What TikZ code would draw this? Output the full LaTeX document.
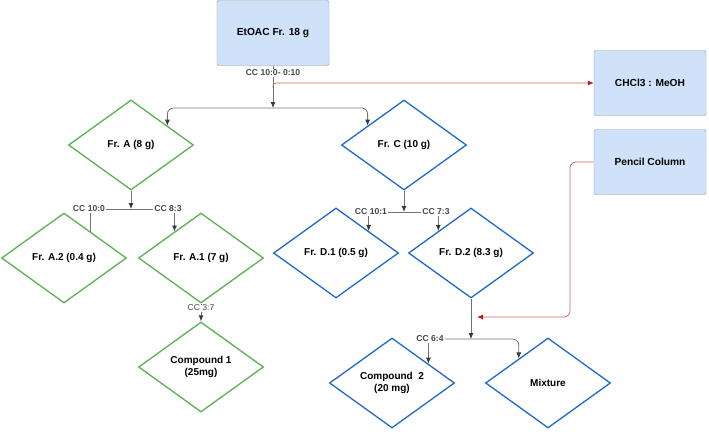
\documentclass[tikz,border=0pt]{standalone}
\usepackage{fontspec}
\setmainfont{Liberation Sans}
\usepackage{tikz}
\usetikzlibrary{shapes.geometric,arrows.meta}

\definecolor{grn}{RGB}{88,178,82}
\definecolor{blu}{RGB}{30,105,200}
\definecolor{boxfill}{RGB}{208,226,250}
\definecolor{boxline}{RGB}{140,150,165}
\definecolor{lnk}{RGB}{112,115,125}
\definecolor{tipc}{RGB}{55,58,66}
\definecolor{rline}{RGB}{210,100,100}
\definecolor{rtip}{RGB}{170,35,35}
\definecolor{lbl}{RGB}{70,72,78}

\begin{document}
\begin{tikzpicture}[x=1pt,y=-1pt,
  box/.style={draw=boxline,fill=boxfill,rounded corners=2pt,minimum width=112pt,minimum height=65pt,font=\fontsize{10.2}{12}\selectfont\bfseries},
  fr/.style={diamond,draw,line width=1.3pt,minimum width=125pt,minimum height=90pt,inner sep=0pt,align=center,font=\fontsize{10}{12.5}\selectfont\bfseries},
  greenfr/.style={fr,draw=grn},
  bluefr/.style={fr,draw=blu},
  cc/.style={text=lbl,inner sep=1pt,font=\fontsize{8.6}{10}\selectfont\bfseries},
  link/.style={draw=lnk,line width=0.8pt},
  ar/.style={link,-{Latex[length=6pt,width=5pt,color=tipc]}},
  redar/.style={draw=rline,line width=0.8pt,-{Latex[length=6pt,width=5pt,color=rtip]}}]
\useasboundingbox (0,0) rectangle (709,431);

  \draw (273,33) node[box] (etoac) {EtOAC Fr. 18 g};
  \draw (650,83) node[box] (chcl) {CHCl3 : MeOH};
  \draw (650,162) node[box] (pencil) {Pencil Column};

    \draw (131,145) node[greenfr] (fra) {Fr. A (8 g)};
    \draw (404,145) node[bluefr] (frc) {Fr. C (10 g)};
  \draw (64,258) node[greenfr] (fra2) {Fr. A.2 (0.4 g)};
  \draw (201,258) node[greenfr] (fra1) {Fr. A.1 (7 g)};
	\draw (201,367) node[greenfr] (cmp1) {Compound 1\\(25mg)};
  \draw (336,253) node[bluefr] (frd1) {Fr. D.1 (0.5 g)};
  \draw (471,253) node[bluefr] (frd2) {Fr. D.2 (8.3 g)};
	\draw (392,383) node[bluefr] (cmp2) {Compound\ \ 2\\(20 mg)};
	\draw (548,383) node[bluefr] (mix) {Mixture};

  \draw (273,73) node[cc] (cc1) {CC 10:0- 0:10};
  \draw (89,209) node[cc] (cc2a) {CC 10:0};
  \draw (168,209) node[cc] (cc2b) {CC 8:3};
  \draw (201,308) node[cc,font=\fontsize{8.6}{10}\selectfont] (cc3) {CC 3:7};
  \draw (371,212) node[cc] (cc4a) {CC 10:1};
  \draw (436,212) node[cc] (cc4b) {CC 7:3};
  \draw (430,339) node[cc] (cc5) {CC 6:4};

  \coordinate (split1) at (273,108);
  \coordinate (split2) at (131,209);
  \coordinate (split3) at (404,212);
  \coordinate (split4) at (471,339);
  \coordinate (redstart) at (273,88);
  \coordinate (rbend) at (570,317);
  \coordinate (redend) at (477,317);

    \draw[link] (etoac) -- (cc1);
    \draw[ar] (cc1) -- (split1);
    \draw[ar,rounded corners=6pt] (split1) -| (fra.28);
    \draw[ar,rounded corners=6pt] (split1) -| (frc.152);
    \draw[redar,rounded corners=3pt] (redstart) |- (chcl.west);

	\draw[ar] (fra) -- (split2);
	\draw[link] (cc2a) -- (cc2b);
	\draw[link] (cc2a.south -| fra2.45) -- (fra2.45);
	\draw[ar] (cc2b.south -| fra1.135) -- (fra1.135);
	\draw[link] (fra1) -- (cc3);
	\draw[ar] (cc3) -- (cmp1);

	\draw[ar] (frc) -- (split3);
	\draw[link] (cc4a) -- (cc4b);
	\draw[ar] (cc4a.south -| frd1.34) -- (frd1.34);
	\draw[ar] (cc4b.south -| frd2.146) -- (frd2.146);

	\draw[ar] (frd2) -- (split4);
    \draw[redar,rounded corners=6pt] (pencil.west) -| (rbend) -- (redend);
	\draw[ar,rounded corners=6pt] (cc5.east) -| (mix.140);
	\draw[ar] (cc5.south -| cmp2.28) -- (cmp2.28);

\end{tikzpicture}
\end{document}
